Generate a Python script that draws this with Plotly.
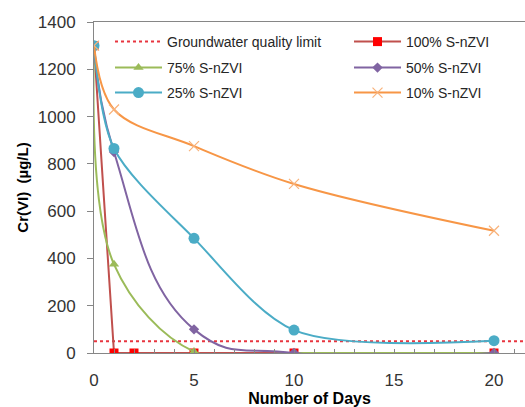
import plotly.graph_objects as go

# ---- data ----
limit_days = [0, 22]
limit_vals = [50, 50]

days_100 = [0, 1, 2, 5, 10, 20]
cr_100 = [1300, 0, 0, 0, 0, 0]

days = [0, 1, 5, 10, 20]
cr_75 = [1300, 375, 6, 0, 0]
cr_50 = [1300, 850, 100, 0, 0]
cr_25 = [1300, 865, 485, 97, 52]
cr_10 = [1300, 1030, 875, 715, 517]

x_ticks = [0, 5, 10, 15, 20]
y_ticks = [0, 200, 400, 600, 800, 1000, 1200, 1400]

FONT = "Liberation Sans, Arial, sans-serif"
W, H = 525, 407
ML, MT, MB, MR = 94, 22, 54, 0
PW, PH = W - ML - MR, H - MT - MB
ITEMW = 47


def px2paper_x(px):
    return (px - ML) / PW


def px2paper_y(py):
    return (H - MB - py) / PH


fig = go.Figure()

fig.add_trace(go.Scatter(
    x=limit_days, y=limit_vals, mode="lines", name="Groundwater quality limit",
    line=dict(color="#E8353F", width=2, dash="dot"), legend="legend", showlegend=True))

fig.add_trace(go.Scatter(
    x=days_100, y=cr_100, mode="lines+markers", name="100% S-nZVI",
    line=dict(color="#C0504D", width=2, shape="linear"),
    marker=dict(symbol="square", size=9, color="#FF0000"), legend="legend2", showlegend=True))

fig.add_trace(go.Scatter(
    x=days, y=cr_75, mode="lines+markers", name="75% S-nZVI",
    line=dict(color="#9BBB59", width=2, shape="spline", smoothing=1.0),
    marker=dict(symbol="triangle-up", size=9, color="#9BBB59"), legend="legend3", showlegend=True))

fig.add_trace(go.Scatter(
    x=days, y=cr_50, mode="lines+markers", name="50% S-nZVI",
    line=dict(color="#8064A2", width=2, shape="spline", smoothing=1.3),
    marker=dict(symbol="diamond", size=8, color="#8064A2"), legend="legend4", showlegend=True))

fig.add_trace(go.Scatter(
    x=days, y=cr_25, mode="lines+markers", name="25% S-nZVI",
    line=dict(color="#4BACC6", width=2, shape="spline", smoothing=0.85),
    marker=dict(symbol="circle", size=11, color="#4BACC6"), legend="legend5", showlegend=True))

fig.add_trace(go.Scatter(
    x=days, y=cr_10, mode="lines+markers", name="10% S-nZVI",
    line=dict(color="#F79646", width=2, shape="spline", smoothing=1.0),
    marker=dict(symbol="x-thin", size=10, color="#F8B27A",
                line=dict(color="#F8B27A", width=1.2)), legend="legend6", showlegend=True))

col1_x = px2paper_x(127 - (ITEMW - 30))
col2_x = px2paper_x(366 - (ITEMW - 30))
rows_y = [px2paper_y(42), px2paper_y(68), px2paper_y(93)]

legend_common = dict(xanchor="left", yanchor="middle", bgcolor="rgba(0,0,0,0)",
                     font=dict(family=FONT, size=14, color="#262626"),
                     borderwidth=0, itemwidth=ITEMW)

fig.update_layout(
    width=W, height=H,
    margin=dict(l=ML, r=MR, t=MT, b=MB, autoexpand=False),
    paper_bgcolor="white", plot_bgcolor="white",
    showlegend=True,
    font=dict(family=FONT, color="#262626"),
    legend=dict(x=col1_x, y=rows_y[0], **legend_common),
    legend2=dict(x=col2_x, y=rows_y[0], **legend_common),
    legend3=dict(x=col1_x, y=rows_y[1], **legend_common),
    legend4=dict(x=col2_x, y=rows_y[1], **legend_common),
    legend5=dict(x=col1_x, y=rows_y[2], **legend_common),
    legend6=dict(x=col2_x, y=rows_y[2], **legend_common),
    xaxis=dict(
        range=[0, PW / 20.0], tickvals=x_ticks, ticktext=[str(v) for v in x_ticks],
        automargin=False,
        showgrid=False, zeroline=False, showline=True, linecolor="#868686", linewidth=1,
        mirror=True, ticks="inside", ticklen=4, tickcolor="#868686",
        minor=dict(dtick=1, ticks="inside", ticklen=4, tickcolor="#868686", showgrid=False),
        tickfont=dict(family=FONT, size=17, color="#333333"), ticklabelstandoff=12,
        title=dict(text="<b>Number of Days</b>", standoff=2,
                   font=dict(family=FONT, size=16, color="#000000")),
    ),
    yaxis=dict(
        range=[0, 1400], tickvals=y_ticks, ticktext=[str(v) for v in y_ticks],
        automargin=False,
        showgrid=False, zeroline=False, showline=True, linecolor="#868686", linewidth=1,
        ticks="outside", ticklen=6, tickcolor="#868686",
        tickfont=dict(family=FONT, size=17, color="#333333"), ticklabelstandoff=8,
        title=dict(text="<b>Cr(VI)\u00a0\u00a0(\u00b5g/L)</b>", standoff=5,
                   font=dict(family=FONT, size=15, color="#000000")),
    ),
)

fig.write_html(
    "out.html",
    config={"displayModeBar": False},
    post_script="document.body.style.margin='0';document.body.style.overflow='hidden';",
)
